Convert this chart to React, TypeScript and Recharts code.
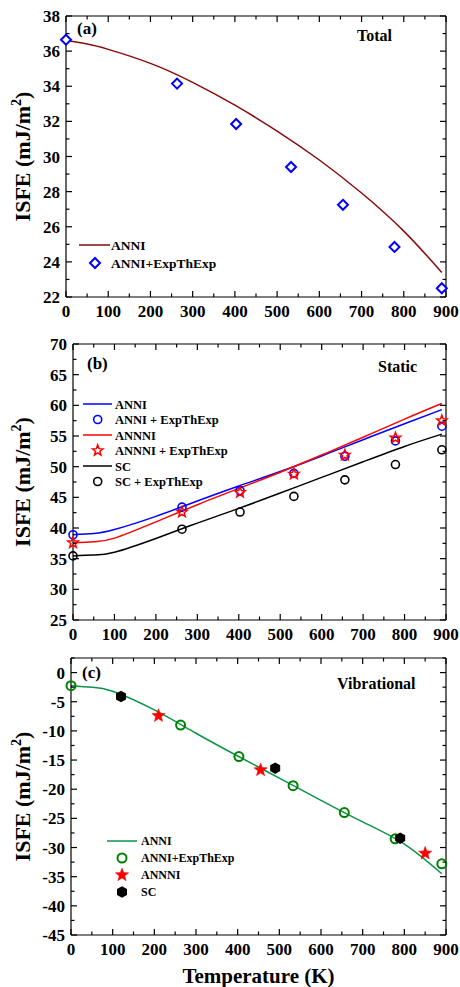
import React from "react";
import { ComposedChart, Line, Scatter, XAxis, YAxis, ReferenceLine } from "recharts";

const FONT = '"Liberation Serif", "Times New Roman", serif';

// x axis ticks (shared by all three panels)
const TEMP_TICKS = [0, 50, 100, 150, 200, 250, 300, 350, 400, 450, 500, 550, 600, 650, 700, 750, 800, 850, 900];
const CURVE_TEMPS = [0, 50, 100, 200, 300, 400, 500, 600, 700, 800, 890];
const EXP_TEMPS = [0, 263, 403, 533, 656, 778, 890];

// (a) Total
const ANNI_TOTAL_CURVE = [36.6, 36.4, 36.1, 35.3, 34.22, 32.92, 31.45, 29.8, 27.92, 25.75, 23.4];
const ANNI_TOTAL_EXP = [36.65, 34.15, 31.85, 29.4, 27.25, 24.85, 22.5];
const Y_TICKS_A = [22, 23, 24, 25, 26, 27, 28, 29, 30, 31, 32, 33, 34, 35, 36, 37, 38];

// (b) Static
const ANNI_STATIC_CURVE = [38.9, 39.1, 39.75, 41.9, 44.4, 46.85, 49.2, 51.75, 54.4, 57.0, 59.3];
const ANNNI_STATIC_CURVE = [37.55, 37.75, 38.35, 41.0, 43.8, 46.45, 49.1, 51.9, 54.8, 57.75, 60.3];
const SC_STATIC_CURVE = [35.45, 35.6, 36.05, 38.3, 40.8, 43.2, 45.7, 48.25, 50.8, 53.3, 55.3];
const ANNI_STATIC_EXP = [38.9, 43.4, 46.1, 48.9, 51.7, 54.2, 56.6];
const ANNNI_STATIC_EXP = [37.6, 42.6, 45.8, 48.8, 51.9, 54.7, 57.5];
const SC_STATIC_EXP = [35.45, 39.8, 42.6, 45.15, 47.85, 50.35, 52.75];
const Y_TICKS_B = [25, 27.5, 30, 32.5, 35, 37.5, 40, 42.5, 45, 47.5, 50, 52.5, 55, 57.5, 60, 62.5, 65, 67.5, 70];

// (c) Vibrational
const ANNI_VIB_CURVE = [-2.25, -2.5, -3.2, -6.4, -10.4, -14.3, -18.1, -21.9, -25.6, -29.4, -34.5];
const ANNI_VIB_EXP = [-2.25, -9.0, -14.4, -19.4, -24.0, -28.5, -32.8];
const ANNNI_VIB_TEMPS = [210, 455, 850];
const ANNNI_VIB = [-7.4, -16.7, -31.0];
const SC_VIB_TEMPS = [120, 490, 790];
const SC_VIB = [-4.1, -16.4, -28.4];
const Y_TICKS_C = [-45, -42.5, -40, -37.5, -35, -32.5, -30, -27.5, -25, -22.5, -20, -17.5, -15, -12.5, -10, -7.5, -5, -2.5, 0, 2.5];

const pts = (ts: number[], vs: number[]) => ts.map((t, i) => ({ t, v: vs[i] }));

const bold = { fontFamily: FONT, fontWeight: 700, fill: "#000" };

// inward ticks on bottom and (mirrored) top, labels only at the bottom
const xTick = (plotH: number) => (p: any) => {
  const v = p.payload.value;
  const major = v % 100 === 0;
  const len = major ? 6 : 3.5;
  const top = p.y - plotH;
  return (
    <g>
      <line x1={p.x} y1={p.y} x2={p.x} y2={p.y - len} stroke="#000" strokeWidth={1.2} />
      <line x1={p.x} y1={top} x2={p.x} y2={top + len} stroke="#000" strokeWidth={1.2} />
      {major && (
        <text x={p.x} y={p.y + 20} textAnchor="middle" fontSize={17} {...bold}>
          {v}
        </text>
      )}
    </g>
  );
};

// inward ticks on left and (mirrored) right, labels only at the left
const yTick = (plotW: number, step: number) => (p: any) => {
  const v = p.payload.value;
  const major = Math.abs(v % step) < 1e-6;
  const len = major ? 6 : 3.5;
  const right = p.x + plotW;
  return (
    <g>
      <line x1={p.x} y1={p.y} x2={p.x + len} y2={p.y} stroke="#000" strokeWidth={1.2} />
      <line x1={right} y1={p.y} x2={right - len} y2={p.y} stroke="#000" strokeWidth={1.2} />
      {major && (
        <text x={p.x - 6} y={p.y + 6} textAnchor="end" fontSize={17} {...bold}>
          {v}
        </text>
      )}
    </g>
  );
};

const YLabel = (props: any) => {
  const vb = props.viewBox;
  const cx = 23;
  const cy = vb.y + vb.height / 2;
  return (
    <text x={cx} y={cy} transform={`rotate(-90, ${cx}, ${cy})`} textAnchor="middle" dy={7} fontSize={22} {...bold}>
      ISFE (mJ/m
      <tspan dy={-9} fontSize={14}>2</tspan>
      <tspan dy={9}>)</tspan>
    </text>
  );
};

const XLabel = (props: any) => {
  const vb = props.viewBox;
  return (
    <text x={vb.x + vb.width / 2} y={vb.y + 48} textAnchor="middle" fontSize={21} {...bold}>
      Temperature (K)
    </text>
  );
};

const starPath = (cx: number, cy: number, r: number) => {
  let d = "";
  for (let i = 0; i < 10; i++) {
    const rr = i % 2 === 0 ? r : r * 0.42;
    const a = -Math.PI / 2 + (i * Math.PI) / 5;
    d += (i === 0 ? "M" : "L") + (cx + rr * Math.cos(a)).toFixed(2) + "," + (cy + rr * Math.sin(a)).toFixed(2);
  }
  return d + "Z";
};

const hexPath = (cx: number, cy: number, r: number) => {
  let d = "";
  for (let i = 0; i < 6; i++) {
    const a = -Math.PI / 2 + (i * Math.PI) / 3;
    d += (i === 0 ? "M" : "L") + (cx + r * Math.cos(a)).toFixed(2) + "," + (cy + r * Math.sin(a)).toFixed(2);
  }
  return d + "Z";
};

const diamond = (color: string) => (p: any) => (
  <path
    d={`M${p.cx},${p.cy - 5}L${p.cx + 5},${p.cy}L${p.cx},${p.cy + 5}L${p.cx - 5},${p.cy}Z`}
    fill="white"
    stroke={color}
    strokeWidth={2}
  />
);
const ring = (color: string, r: number, w: number) => (p: any) => (
  <circle cx={p.cx} cy={p.cy} r={r} fill="none" stroke={color} strokeWidth={w} />
);
const star = (color: string, r: number, filled: boolean) => (p: any) => (
  <path d={starPath(p.cx, p.cy, r)} fill={filled ? color : "none"} stroke={color} strokeWidth={filled ? 0.5 : 1.5} />
);
const hexagon = (color: string, r: number) => (p: any) => <path d={hexPath(p.cx, p.cy, r)} fill={color} />;

type PanelProps = {
  top: number;
  height: number;
  marginTop: number;
  yWidth: number;
  xHeight: number;
  yDomain: [number, number];
  yTicks: number[];
  yStep: number;
  showXLabel?: boolean;
  children: React.ReactNode;
};

const RIGHT = 14;

const Panel = ({ top, height, marginTop, yWidth, xHeight, yDomain, yTicks, yStep, showXLabel, children }: PanelProps) => {
  const plotW = 460 - RIGHT - yWidth;
  const plotH = height - marginTop - xHeight;
  return (
    <div style={{ position: "absolute", left: 0, top, width: 460, height }}>
      <ComposedChart width={460} height={height} margin={{ top: marginTop, right: RIGHT, left: 0, bottom: 0 }}>
        <XAxis
          dataKey="t"
          type="number"
          domain={[0, 900]}
          ticks={TEMP_TICKS}
          interval={0}
          tickSize={0}
          tickMargin={0}
          tickLine={false}
          height={xHeight}
          stroke="#000"
          strokeWidth={1.2}
          tick={xTick(plotH)}
          label={showXLabel ? <XLabel /> : undefined}
        />
        <YAxis
          type="number"
          domain={yDomain}
          ticks={yTicks}
          interval={0}
          tickSize={0}
          tickMargin={0}
          tickLine={false}
          width={yWidth}
          stroke="#000"
          strokeWidth={1.2}
          tick={yTick(plotW, yStep)}
          label={<YLabel />}
        />
        <ReferenceLine y={yDomain[1]} stroke="#000" strokeWidth={1.2} />
        <ReferenceLine x={900} stroke="#000" strokeWidth={1.2} />
        {children}
      </ComposedChart>
    </div>
  );
};

const legendText = (x: number, y: number, size: number, s: string) => (
  <text x={x} y={y + size * 0.36} fontSize={size} {...bold}>
    {s}
  </text>
);

export default function App() {
  const rowsB = [404, 419.5, 435, 450.5, 466, 481.5];
  const rowsC = [841, 858, 875, 892];
  return (
    <div style={{ position: "absolute", left: 0, top: 0, width: 460, height: 987, background: "#fff" }}>
      <Panel top={0} height={320} marginTop={16} yWidth={66} xHeight={23} yDomain={[22, 38]} yTicks={Y_TICKS_A} yStep={2}>
        <Line data={pts(CURVE_TEMPS, ANNI_TOTAL_CURVE)} dataKey="v" type="natural" stroke="#8b0a0a" strokeWidth={1.5} dot={false} isAnimationActive={false} />
        <Scatter data={pts(EXP_TEMPS, ANNI_TOTAL_EXP)} dataKey="v" shape={diamond("#0000ff")} isAnimationActive={false} />
      </Panel>

      <Panel top={320} height={323} marginTop={24} yWidth={73} xHeight={23} yDomain={[25, 70]} yTicks={Y_TICKS_B} yStep={5}>
        <Line data={pts(CURVE_TEMPS, ANNI_STATIC_CURVE)} dataKey="v" type="natural" stroke="#0000ff" strokeWidth={1.5} dot={false} isAnimationActive={false} />
        <Line data={pts(CURVE_TEMPS, ANNNI_STATIC_CURVE)} dataKey="v" type="natural" stroke="#ff0000" strokeWidth={1.5} dot={false} isAnimationActive={false} />
        <Line data={pts(CURVE_TEMPS, SC_STATIC_CURVE)} dataKey="v" type="natural" stroke="#000" strokeWidth={1.5} dot={false} isAnimationActive={false} />
        <Scatter data={pts(EXP_TEMPS, ANNI_STATIC_EXP)} dataKey="v" shape={ring("#0000ff", 4, 1.6)} isAnimationActive={false} />
        <Scatter data={pts(EXP_TEMPS, ANNNI_STATIC_EXP)} dataKey="v" shape={star("#ff0000", 5.5, false)} isAnimationActive={false} />
        <Scatter data={pts(EXP_TEMPS, SC_STATIC_EXP)} dataKey="v" shape={ring("#000", 4, 1.6)} isAnimationActive={false} />
      </Panel>

      <Panel top={643} height={344} marginTop={15} yWidth={71} xHeight={52} yDomain={[-45, 2.5]} yTicks={Y_TICKS_C} yStep={5} showXLabel>
        <Line data={pts(CURVE_TEMPS, ANNI_VIB_CURVE)} dataKey="v" type="natural" stroke="#0a9448" strokeWidth={1.5} dot={false} isAnimationActive={false} />
        <Scatter data={pts(EXP_TEMPS, ANNI_VIB_EXP)} dataKey="v" shape={ring("#008000", 4.5, 2)} isAnimationActive={false} />
        <Scatter data={pts(ANNNI_VIB_TEMPS, ANNNI_VIB)} dataKey="v" shape={star("#ff0000", 7, true)} isAnimationActive={false} />
        <Scatter data={pts(SC_VIB_TEMPS, SC_VIB)} dataKey="v" shape={hexagon("#000", 5.8)} isAnimationActive={false} />
      </Panel>

      {/* panel annotations and legends */}
      <svg width={460} height={987} style={{ position: "absolute", left: 0, top: 0, pointerEvents: "none" }}>
        <text x={77} y={34} fontSize={17} {...bold}>(a)</text>
        <text x={357} y={40.5} fontSize={16} {...bold}>Total</text>
        <line x1={79} y1={245} x2={110} y2={245} stroke="#8b0a0a" strokeWidth={1.5} />
        {legendText(111, 245, 13.5, "ANNI")}
        {diamond("#0000ff")({ cx: 95, cy: 263 })}
        {legendText(111, 263, 13.5, "ANNI+ExpThExp")}

        <text x={87} y={368.5} fontSize={17} {...bold}>(b)</text>
        <text x={378} y={371.5} fontSize={16} {...bold}>Static</text>
        <line x1={83} y1={rowsB[0]} x2={112} y2={rowsB[0]} stroke="#0000ff" strokeWidth={1.5} />
        {legendText(115, rowsB[0], 12.5, "ANNI")}
        {ring("#0000ff", 4, 1.6)({ cx: 97.7, cy: rowsB[1] })}
        {legendText(115, rowsB[1], 12.5, "ANNI + ExpThExp")}
        <line x1={83} y1={rowsB[2]} x2={112} y2={rowsB[2]} stroke="#ff0000" strokeWidth={1.5} />
        {legendText(115, rowsB[2], 12.5, "ANNNI")}
        {star("#ff0000", 5.5, false)({ cx: 97.7, cy: rowsB[3] })}
        {legendText(115, rowsB[3], 12.5, "ANNNI + ExpThExp")}
        <line x1={83} y1={rowsB[4]} x2={112} y2={rowsB[4]} stroke="#000" strokeWidth={1.5} />
        {legendText(115, rowsB[4], 12.5, "SC")}
        {ring("#000", 4, 1.6)({ cx: 97.7, cy: rowsB[5] })}
        {legendText(115, rowsB[5], 12.5, "SC + ExpThExp")}

        <text x={82} y={677.5} fontSize={17} {...bold}>(c)</text>
        <text x={337} y={688.5} fontSize={16} {...bold}>Vibrational</text>
        <line x1={107} y1={rowsC[0]} x2={137} y2={rowsC[0]} stroke="#0a9448" strokeWidth={1.5} />
        {legendText(141, rowsC[0], 12, "ANNI")}
        {ring("#008000", 4.5, 2)({ cx: 122, cy: rowsC[1] })}
        {legendText(141, rowsC[1], 12, "ANNI+ExpThExp")}
        {star("#ff0000", 7, true)({ cx: 122, cy: rowsC[2] })}
        {legendText(141, rowsC[2], 12, "ANNNI")}
        {hexagon("#000", 5.8)({ cx: 122, cy: rowsC[3] })}
        {legendText(141, rowsC[3], 12, "SC")}
      </svg>
    </div>
  );
}
